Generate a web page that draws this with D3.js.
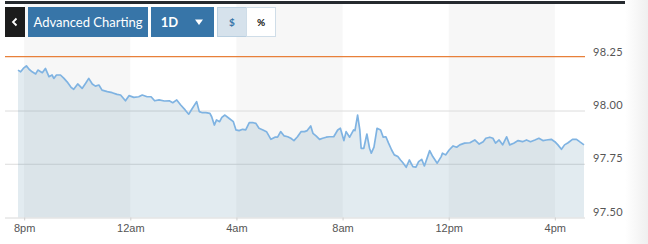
<!DOCTYPE html>
<html>
<head>
<meta charset="utf-8">
<script src="https://cdn.jsdelivr.net/npm/d3@7"></script>
<style>
  body { margin: 0; background: #fff; }
  svg { display: block; font-family: Lato, "Open Sans", sans-serif; }
</style>
</head>
<body>
<div id="chart"></div>
<script>
// minutes after 8pm, and price
const minutes = [-14, -8, -2, 5, 11, 18, 26, 31, 41, 48, 56, 63, 67, 73, 82, 90, 97, 106, 112, 121,
  131, 139, 146, 154, 161, 169, 176, 188, 199, 210, 218, 229, 237, 248, 259, 267, 278, 287, 295, 305,
  317, 328, 336, 345, 354, 364, 372, 379, 390, 396, 403, 411, 420, 424, 430, 435, 442, 447, 454, 463,
  473, 479, 486, 494, 501, 509, 518, 524, 531, 540, 548, 558, 567, 573, 580, 588, 596, 603, 610, 618,
  626, 634, 640, 648, 653, 660, 668, 675, 683, 690, 700, 709, 715, 723, 728, 736, 745, 748, 754, 759,
  762, 768, 775, 781, 785, 791, 798, 806, 812, 818, 824, 831, 837, 845, 851, 856, 864, 871, 879, 886,
  892, 899, 905, 917, 924, 934, 943, 946, 953, 961, 970, 978, 985, 996, 1008, 1019, 1029, 1038, 1044, 1053,
  1060, 1066, 1074, 1082, 1091, 1098, 1107, 1117, 1127, 1136, 1145, 1155, 1164, 1173, 1181, 1192, 1200, 1207, 1215, 1222,
  1230, 1240, 1249, 1256, 1266];
const prices = [98.192, 98.184, 98.200, 98.212, 98.196, 98.184, 98.174, 98.192, 98.180, 98.200, 98.161, 98.169, 98.153, 98.169, 98.169, 98.153, 98.137, 98.111, 98.102, 98.127,
  98.106, 98.130, 98.153, 98.127, 98.117, 98.122, 98.098, 98.091, 98.086, 98.078, 98.075, 98.048, 98.072, 98.064, 98.067, 98.075, 98.067, 98.067, 98.048, 98.052,
  98.047, 98.048, 98.039, 98.052, 98.028, 98.005, 97.985, 98.008, 98.044, 97.997, 97.992, 97.992, 97.989, 97.973, 97.934, 97.958, 97.950, 97.970, 97.981, 97.966,
  97.950, 97.911, 97.908, 97.914, 97.911, 97.945, 97.945, 97.942, 97.919, 97.911, 97.903, 97.867, 97.877, 97.877, 97.903, 97.883, 97.879, 97.872, 97.861, 97.879,
  97.903, 97.903, 97.908, 97.930, 97.895, 97.883, 97.867, 97.872, 97.877, 97.879, 97.879, 97.911, 97.919, 97.861, 97.903, 97.877, 97.911, 97.908, 97.981, 97.911,
  97.825, 97.825, 97.892, 97.825, 97.802, 97.830, 97.919, 97.911, 97.877, 97.879, 97.849, 97.817, 97.794, 97.786, 97.770, 97.758, 97.736, 97.770, 97.739, 97.736,
  97.762, 97.773, 97.742, 97.814, 97.786, 97.755, 97.786, 97.802, 97.794, 97.817, 97.836, 97.830, 97.841, 97.849, 97.851, 97.864, 97.845, 97.856, 97.872, 97.877,
  97.872, 97.849, 97.864, 97.841, 97.879, 97.841, 97.849, 97.861, 97.856, 97.864, 97.856, 97.864, 97.872, 97.861, 97.864, 97.867, 97.856, 97.841, 97.820, 97.841,
  97.851, 97.867, 97.867, 97.856, 97.841];
const prevClose = 98.255;
const priceTicks = [97.5, 97.75, 98.0, 98.25];
const gridValues = [97.75, 98.0];
const buttons = ['Advanced Charting', '1D', '$', '%'];

const W = 648, H = 244;
const start = new Date(2019, 0, 7, 20, 0);
const data = minutes.map((m, i) => ({ t: d3.timeMinute.offset(start, m), v: prices[i] }));

const svg = d3.select('#chart').append('svg')
  .attr('width', W).attr('height', H);

// right edge shadow
const grad = svg.append('defs').append('linearGradient').attr('id', 'edge');
grad.append('stop').attr('offset', '0%').attr('stop-color', '#fff');
grad.append('stop').attr('offset', '100%').attr('stop-color', '#efefef');
svg.append('rect').attr('x', 625).attr('y', 0).attr('width', 23).attr('height', H)
  .attr('fill', 'url(#edge)');

const x = d3.scaleTime()
  .domain([d3.timeMinute.offset(start, -14), d3.timeMinute.offset(start, 1266)])
  .range([18, 584]);
const y = d3.scaleLinear().domain([97.5, 98.25]).range([217.5, 57.75]);

const bottom = y(97.5);

// alternating stripes every 4 hours
const hourTicks = d3.timeHour.every(4).range(start, d3.timeHour.offset(start, 24));
hourTicks.forEach((t, i) => {
  if (i % 2) return;
  const x0 = x(t), x1 = Math.min(x(d3.timeHour.offset(t, 4)), 584);
  svg.append('rect').attr('x', x0).attr('y', 4).attr('width', x1 - x0).attr('height', bottom - 4)
    .attr('fill', '#f7f7f7');
});

// gridlines
svg.selectAll('.grid').data(gridValues).enter().append('line')
  .attr('x1', 5).attr('x2', 585)
  .attr('y1', d => y(d)).attr('y2', d => y(d))
  .attr('stroke', '#dcdcdc').attr('stroke-width', 1);

// area + line
svg.append('path').datum(data)
  .attr('d', d3.area().x(d => x(d.t)).y0(bottom).y1(d => y(d.v)))
  .attr('fill', 'rgb(15,87,135)').attr('fill-opacity', 0.12);
svg.append('path').datum(data)
  .attr('d', d3.line().x(d => x(d.t)).y(d => y(d.v)))
  .attr('fill', 'none').attr('stroke', '#7fb3e2').attr('stroke-width', 1.7)
  .attr('stroke-linejoin', 'round');

// previous close
svg.append('line').attr('x1', 5).attr('x2', 585)
  .attr('y1', y(prevClose)).attr('y2', y(prevClose))
  .attr('stroke', '#e8803a').attr('stroke-width', 1.3);

// x axis
const xAxis = svg.append('g').attr('transform', `translate(0,${bottom})`)
  .call(d3.axisBottom(x).tickValues(hourTicks).tickSize(3).tickSizeOuter(0)
    .tickFormat(d => d3.timeFormat('%-I%p')(d).toLowerCase()));
xAxis.select('.domain').attr('d', `M5,0.5H585`).attr('stroke', '#d8d8d8');
xAxis.selectAll('.tick line').attr('stroke', '#cfcfcf');
xAxis.selectAll('text').attr('fill', '#555').style('font-size', '11px').attr('dy', '0.95em').attr('y', 4);

// price labels
svg.selectAll('.plabel').data(priceTicks).enter().append('text')
  .attr('x', 593).attr('y', d => y(d) - 2)
  .attr('fill', '#555').style('font-size', '11px').style('letter-spacing', '0.4px')
  .text(d => d3.format('.2f')(d));

// toolbar
svg.append('rect').attr('x', 5).attr('y', 1).attr('width', 620).attr('height', 3).attr('fill', '#262a2f');
svg.append('rect').attr('x', 5).attr('y', 7).attr('width', 20).attr('height', 30).attr('fill', '#1c1c1c');
svg.append('path').attr('d', 'M16.5,18.5 L13,22 L16.5,25.5').attr('fill', 'none')
  .attr('stroke', '#fff').attr('stroke-width', 1.8);

svg.append('rect').attr('x', 28).attr('y', 7).attr('width', 120).attr('height', 30).attr('fill', '#3775a8');
svg.append('text').attr('x', 88).attr('y', 26.5).attr('text-anchor', 'middle')
  .attr('fill', '#fff').style('font-size', '13px').text(buttons[0]);

svg.append('rect').attr('x', 151).attr('y', 7).attr('width', 63).attr('height', 30).attr('fill', '#3775a8');
svg.append('text').attr('x', 169.5).attr('y', 26.5).attr('text-anchor', 'middle')
  .attr('fill', '#fff').style('font-size', '13px').style('font-weight', 'bold').text(buttons[1]);
svg.append('path').attr('d', 'M195,19.5 L203,19.5 L199,25 Z').attr('fill', '#fff');

svg.append('rect').attr('x', 217.5).attr('y', 7.5).attr('width', 29).attr('height', 29)
  .attr('fill', '#d6e2ec').attr('stroke', '#b9cfe0');
svg.append('text').attr('x', 232).attr('y', 25.5).attr('text-anchor', 'middle')
  .attr('fill', '#3775a8').style('font-size', '10px').style('font-weight', 'bold').text(buttons[2]);
svg.append('rect').attr('x', 246.5).attr('y', 7.5).attr('width', 29).attr('height', 29)
  .attr('fill', '#fff').attr('stroke', '#cfdde8');
svg.append('text').attr('x', 261).attr('y', 25.5).attr('text-anchor', 'middle')
  .attr('fill', '#111').style('font-size', '10px').style('font-weight', 'bold').text(buttons[3]);
</script>
</body>
</html>
